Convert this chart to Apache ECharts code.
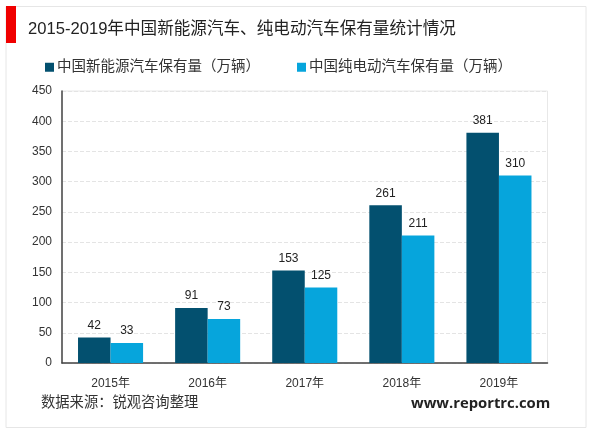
<!DOCTYPE html>
<html><head><meta charset="utf-8">
<style>html,body{margin:0;padding:0;background:#fff}#c{width:600px;height:433px}</style>
<script src="https://cdn.jsdelivr.net/npm/echarts@6/dist/echarts.min.js"></script>
</head><body><div id="c"></div>
<script>
const categories = ['2015年','2016年','2017年','2018年','2019年'];
const nevStock = [42,91,153,261,381];
const bevStock = [33,73,125,211,310];
const seriesNames = ['中国新能源汽车保有量（万辆）','中国纯电动汽车保有量（万辆）'];
const titleText = '2015-2019年中国新能源汽车、纯电动汽车保有量统计情况';
const sourceText = '数据来源：锐观咨询整理';
const siteText = 'www.reportrc.com';
const FONT = '"Liberation Sans","Noto Sans CJK SC",sans-serif';
const label = {show:true,position:'top',color:'#222',fontSize:12,fontFamily:FONT,distance:6};
const chart = echarts.init(document.getElementById('c'),null,{renderer:'canvas'});
chart.setOption({
  animation:false,
  backgroundColor:'#fff',
  title:{text:titleText,left:23,top:16,textStyle:{fontSize:16.6,fontWeight:'normal',color:'#222',fontFamily:FONT}},
  legend:{left:40,top:55,itemWidth:9,itemHeight:9,itemGap:37,icon:'rect',
    textStyle:{fontSize:14.5,color:'#333',fontFamily:FONT,padding:[0,0,0,-2]}},
  grid:{left:62,right:52.5,top:91,bottom:70,show:true,borderColor:'#e8e8e8',borderWidth:1},
  xAxis:{type:'category',data:categories,
    axisLine:{lineStyle:{color:'#444',width:1.5}},axisTick:{show:false},
    axisLabel:{color:'#333',fontSize:12,fontFamily:FONT,margin:15}},
  yAxis:{type:'value',min:0,max:450,interval:50,
    axisLine:{show:true,lineStyle:{color:'#444',width:1.5}},axisTick:{show:false},
    axisLabel:{color:'#333',fontSize:12,fontFamily:FONT,margin:10},
    splitLine:{lineStyle:{color:'#e4e4e4',type:'dashed',width:1}}},
  series:[
    {name:seriesNames[0],type:'bar',data:nevStock,barWidth:'33.5%',barGap:0,itemStyle:{color:'#03506f'},label},
    {name:seriesNames[1],type:'bar',data:bevStock,barWidth:'33.5%',itemStyle:{color:'#06a5dc'},label}
  ],
  graphic:[
    {type:'rect',z:-1,shape:{x:6,y:6.5,width:580,height:421},style:{fill:'#fff',stroke:'#e6e6e6',lineWidth:1}},
    {type:'rect',z:5,shape:{x:6,y:6,width:10,height:37},style:{fill:'#f00000'}},
    {type:'text',z:5,left:41,top:396,style:{text:sourceText,fontSize:14.3,fill:'#333',fontFamily:FONT}},
    {type:'text',z:5,left:411,top:396,style:{text:siteText,fontSize:14.8,fontWeight:'bold',fill:'#222',fontFamily:'"Open Sans","DejaVu Sans",sans-serif'}}
  ]
});
</script></body></html>
